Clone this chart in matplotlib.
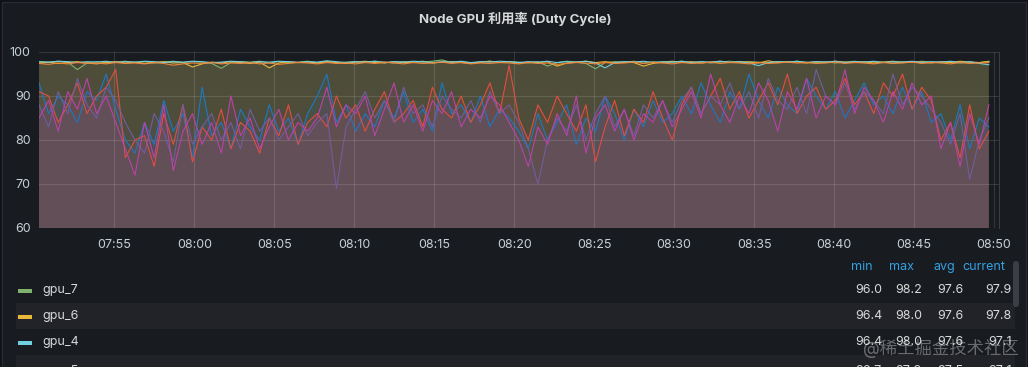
import numpy as np
import pandas as pd
import matplotlib
matplotlib.use('Agg')
import matplotlib.pyplot as plt
import matplotlib.dates as mdates
from matplotlib.patches import Rectangle, FancyBboxPatch

plt.rcParams['font.family'] = ['Inter', 'Noto Sans CJK SC', 'DejaVu Sans']

# время отсчётов: шаг 36 с
times = pd.date_range('2023-01-01 07:50:17', periods=100, freq='36s')

gpu_7 = [97.8, 97.6, 97.9, 97.7, 96.0, 97.5, 97.8, 97.6, 97.7, 97.9,
         97.6, 97.8, 97.5, 97.7, 97.9, 97.6, 97.8, 97.7, 97.4, 96.3,
         97.6, 97.8, 97.7, 97.9, 97.5, 97.8, 97.6, 97.7, 97.9, 97.6,
         97.8, 97.5, 97.7, 97.8, 97.6, 97.9, 97.7, 97.5, 97.8, 97.6,
         97.7, 97.9, 98.2, 97.6, 97.8, 97.5, 97.7, 97.9, 97.6, 97.8,
         97.7, 97.5, 97.8, 96.8, 97.6, 97.9, 97.7, 97.4, 96.2, 97.6,
         97.8, 97.7, 97.9, 97.5, 97.8, 97.6, 97.7, 97.9, 97.6, 97.8,
         97.5, 97.7, 97.9, 97.6, 97.8, 97.7, 97.5, 97.8, 97.6, 97.9,
         97.7, 97.6, 97.8, 97.5, 97.7, 97.9, 97.6, 97.8, 97.7, 97.5,
         97.8, 97.6, 97.9, 97.7, 97.6, 97.8, 97.5, 97.7, 97.6, 97.9]

gpu_6 = [97.5, 97.7, 97.4, 97.6, 97.8, 97.5, 97.3, 97.6, 97.8, 97.5,
         97.7, 97.4, 97.6, 97.8, 97.5, 97.6, 96.6, 97.3, 97.7, 97.5,
         97.8, 97.6, 97.4, 97.7, 96.4, 97.5, 97.8, 97.6, 97.7, 97.5,
         97.8, 97.6, 97.4, 97.7, 97.9, 97.6, 97.5, 97.8, 97.6, 97.7,
         97.9, 97.5, 97.7, 97.8, 97.6, 97.4, 97.7, 97.9, 97.6, 97.8,
         97.5, 97.7, 97.6, 97.8, 96.8, 97.5, 97.7, 97.9, 97.6, 97.8,
         97.5, 97.7, 97.6, 96.8, 97.4, 97.7, 97.9, 97.6, 97.8, 97.5,
         97.7, 97.9, 97.6, 97.8, 97.7, 97.5, 98.0, 97.6, 97.8, 97.7,
         97.5, 97.8, 97.6, 97.9, 97.7, 97.6, 97.8, 97.5, 97.7, 97.9,
         97.6, 97.8, 97.7, 97.5, 97.8, 97.6, 97.9, 97.7, 97.6, 97.8]

gpu_4 = [97.8, 97.7, 97.9, 97.8, 97.6, 97.8, 97.7, 97.9, 97.6, 97.8,
         97.7, 97.9, 97.8, 97.6, 97.8, 97.7, 97.9, 97.8, 97.6, 97.7,
         97.9, 97.8, 97.6, 97.8, 97.7, 97.9, 97.8, 97.6, 97.8, 97.7,
         98.0, 97.8, 97.6, 97.8, 97.7, 97.9, 97.6, 97.8, 97.7, 97.9,
         97.8, 97.6, 97.8, 97.7, 97.9, 97.6, 97.8, 97.7, 97.9, 97.8,
         97.6, 97.8, 97.7, 97.9, 97.6, 97.8, 97.7, 97.9, 97.5, 96.4,
         97.6, 97.8, 97.7, 97.9, 97.6, 97.8, 97.7, 97.9, 97.6, 97.8,
         97.7, 97.9, 97.6, 97.8, 97.5, 96.9, 97.6, 97.8, 97.7, 97.9,
         97.6, 97.8, 97.7, 97.9, 97.6, 97.8, 97.7, 97.9, 97.6, 97.8,
         97.7, 97.9, 97.6, 97.8, 97.7, 97.9, 97.6, 97.8, 97.4, 97.1]

gpu_5 = [97.4, 97.2, 97.5, 97.3, 97.6, 97.4, 97.5, 97.3, 97.6, 97.4,
         97.5, 97.3, 97.6, 97.4, 97.0, 97.3, 97.5, 97.4, 97.6, 97.3,
         97.5, 97.4, 97.6, 97.3, 97.5, 97.2, 97.4, 97.6, 97.5, 97.3,
         97.6, 97.4, 97.5, 97.3, 97.6, 97.4, 97.7, 97.5, 97.3, 97.6,
         97.4, 97.5, 97.7, 97.4, 97.6, 97.3, 97.5, 97.4, 97.6, 97.5,
         97.3, 97.6, 97.4, 97.5, 97.2, 97.4, 97.6, 97.5, 97.3, 97.6,
         97.4, 97.5, 97.7, 97.4, 97.6, 97.5, 97.3, 97.6, 97.4, 97.5,
         97.7, 97.4, 97.6, 97.5, 97.3, 97.6, 97.4, 97.5, 97.7, 97.5,
         97.6, 97.4, 97.5, 97.7, 97.4, 97.6, 97.5, 97.3, 97.6, 97.4,
         97.5, 97.7, 97.4, 97.6, 97.5, 97.3, 97.6, 97.4, 97.5, 97.6]

gpu_0 = [91, 90, 84, 88, 93, 86, 90, 92, 96,
         76, 80, 81, 74, 86, 79, 88, 75, 83, 80, 87, 78, 84, 82, 77, 85, 81, 88, 79, 84,
         86, 83, 90, 85, 88, 82, 87, 91, 84, 86, 89, 83, 92, 87, 85, 90, 84, 88, 93, 86, 97,
         85, 80, 88, 84,
         90, 86, 82, 88, 75, 83, 89, 81, 87, 84, 91, 85, 80,
         88, 92, 86, 90, 94, 87, 91, 85, 89, 93, 88, 95, 86, 90, 92, 87, 89, 94, 88, 91,
         86, 93, 90, 95, 87, 92, 89,
         80, 84, 76, 88, 78, 82]

gpu_1 = [93, 86, 90, 88, 84, 91, 89, 95, 87,
         80, 77, 84, 79, 89, 82, 86, 76, 92, 81, 84, 78, 87, 83, 80, 88, 82, 85, 79, 86,
         90, 95, 84, 88, 82, 86, 83, 89, 85, 91, 84, 87, 82, 93, 86, 88, 84, 90, 83, 87, 85,
         82, 78, 86, 80,
         84, 88, 79, 85, 82, 90, 86, 80, 87, 83, 89, 84, 86,
         90, 86, 93, 88, 84, 91, 87, 95, 89, 85, 92, 88, 86, 94, 90, 87, 91, 85, 89, 93,
         88, 90, 86, 92, 87, 91, 84,
         86, 80, 88, 78, 85, 83]

gpu_2 = [85, 89, 82, 91, 87, 94, 86, 90, 84,
         78, 72, 84, 76, 88, 73, 82, 86, 79, 84, 77, 90, 81, 85, 78, 83, 87, 80, 84, 82,
         85, 92, 83, 88, 86, 90, 81, 87, 93, 84, 88, 82, 89, 86, 91, 83, 87, 85, 90, 88, 84,
         80, 74, 83, 79,
         86, 81, 90, 77, 85, 88, 82, 87, 80, 86, 84, 89, 83,
         87, 91, 85, 95, 88, 84, 90, 86, 93, 89, 82, 91, 87, 94, 85, 90, 88, 96, 86, 92,
         89, 84, 91, 87, 93, 88, 90,
         78, 84, 74, 86, 79, 88]

gpu_3 = [88, 83, 91, 86, 94, 88, 85, 92, 89,
         84, 80, 77, 86, 82, 75, 88, 79, 83, 86, 80, 84, 78, 87, 82, 85, 80, 83, 86, 81,
         84, 86, 69, 83, 87, 91, 85, 89, 84, 92, 86, 88, 83, 90, 87, 85, 89, 84, 91, 86, 88,
         84, 78, 70, 80,
         85, 82, 88, 80, 86, 90, 83, 87, 81, 88, 85, 89, 84,
         89, 92, 86, 90, 88, 93, 87, 91, 85, 94, 89, 87, 92, 86, 96, 90, 88, 93, 87, 91,
         89, 86, 95, 88, 92, 90, 87,
         84, 79, 86, 71, 80, 85]

# сначала «высокие» ряды, затем шумные
series = [gpu_7, gpu_6, gpu_4, gpu_5, gpu_1, gpu_0, gpu_3, gpu_2]
colors = ['#7EB26D', '#EAB839', '#6ED0E0', '#EF843C',
          '#1F78C1', '#E24D42', '#705DA0', '#BA43A9']

legend_names = ['gpu_7', 'gpu_6', 'gpu_4', 'gpu_5']
legend_colors = ['#7EB26D', '#EAB839', '#6ED0E0', '#EF843C']
legend_min = ['96.0', '96.4', '96.4', '96.7']
legend_max = ['98.2', '98.0', '98.0', '97.9']
legend_avg = ['97.6', '97.6', '97.6', '97.5']
legend_cur = ['97.9', '97.8', '97.1', '97.1']

W, H = 1028, 367
bg = '#181b1f'
txt = '#d8d9da'

fig = plt.figure(figsize=(W / 100, H / 100), dpi=100, facecolor='#111217')

# подложка панели и легенда в пиксельных координатах
over = fig.add_axes([0, 0, 1, 1], zorder=0)
over.set_xlim(0, W)
over.set_ylim(H, 0)
over.axis('off')
over.add_patch(Rectangle((2, 2), W - 4, H, facecolor=bg, edgecolor='#272a30', linewidth=1))

# основной график
ax = fig.add_axes([39 / W, 1 - 228 / H, 960 / W, 176 / H], zorder=2)
ax.set_facecolor('none')
for vals, c in zip(series, colors):
    ax.fill_between(times, 0, vals, color=c, alpha=0.1, linewidth=0)
for vals, c in zip(series[4:] + series[:4], colors[4:] + colors[:4]):
    ax.plot(times, vals, color=c, linewidth=0.8)

ax.set_ylim(60, 100)
ax.set_yticks([60, 70, 80, 90, 100])
ax.set_xlim(pd.Timestamp('2023-01-01 07:50:17'), pd.Timestamp('2023-01-01 08:50:19'))
ax.xaxis.set_major_locator(mdates.MinuteLocator(byminute=range(0, 60, 5)))
ax.xaxis.set_major_formatter(mdates.DateFormatter('%H:%M'))
ax.tick_params(length=0, colors='#c7d0d9', labelsize=9, pad=6)
ax.tick_params(axis='x', pad=8)
ax.grid(True, color='#ffffff', alpha=0.12, linewidth=0.8)
for s in ['left', 'top', 'bottom']:
    ax.spines[s].set_visible(False)
ax.spines['right'].set_color('#3a3d42')
ax.spines['right'].set_linewidth(0.8)

fig.text(515 / W, 1 - 19 / H, 'Node GPU 利用率 (Duty Cycle)', ha='center', va='center',
         color=txt, fontsize=9.5, fontweight='bold')

# таблица легенды
heads = ['min', 'max', 'avg', 'current']
head_x = [873, 914, 955, 1005]
val_x = [882, 922, 963, 1012]
for h, x in zip(heads, head_x):
    over.text(x, 267, h, ha='right', va='center', color='#33A2E5', fontsize=9)

row_y = [290, 316, 342, 371]
for i, name in enumerate(legend_names):
    y = row_y[i]
    if i % 2 == 1:
        over.add_patch(Rectangle((16, y - 13), 999, 26, facecolor='#212328', edgecolor='none'))
    if i == 3:
        over.add_patch(Rectangle((16, 355), 999, 20, facecolor='#212328', edgecolor='none'))
    over.add_patch(Rectangle((18, y - 1), 14, 4, facecolor=legend_colors[i], edgecolor='none'))
    over.text(42, y, name, ha='left', va='center', color=txt, fontsize=9)
    for v, x in zip([legend_min[i], legend_max[i], legend_avg[i], legend_cur[i]], val_x):
        over.text(x, y, v, ha='right', va='center', color=txt, fontsize=9)

over.add_patch(FancyBboxPatch((1013, 261), 6, 46, boxstyle='round,pad=0,rounding_size=3',
                              facecolor='#3b3e44', edgecolor='none'))

over.text(1019, 349, '@稀土掘金技术社区', ha='right', va='center', color='#ffffff',
          alpha=0.35, fontsize=12.5)

fig.savefig('out.png', dpi=100, facecolor=fig.get_facecolor())
